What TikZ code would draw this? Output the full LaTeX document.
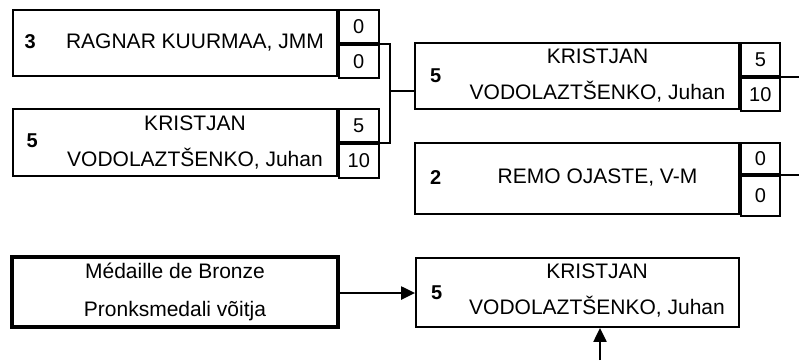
\documentclass[tikz,border=0pt]{standalone}
\usepackage{fontspec}
\setmainfont{Liberation Sans}
\usetikzlibrary{calc,arrows.meta}

\tikzset{
  namebox/.style={draw,line width=1.8pt,minimum width=324pt,minimum height=#1,inner sep=0pt},
  scorebox/.style={draw,line width=1.8pt,minimum width=40pt,minimum height=#1,inner sep=0pt,font=\fontsize{20}{20}\selectfont},
  seed/.style={font=\fontsize{20}{20}\selectfont\bfseries},
  player/.style={align=center,inner sep=0pt,font=\fontsize{21}{36}\selectfont},
  link/.style={line width=2.6pt},
  feed/.style={line width=2.2pt,-{Triangle[length=14pt,width=13pt]}}
}

\begin{document}
\begin{tikzpicture}[x=1pt,y=-1pt]
  \useasboundingbox (0,0) rectangle (799,360);
  % first round
  \node[namebox=66pt] (q1) at (175,43) {};
  \node[scorebox=33pt,anchor=north west] (s1a) at (q1.north east) {0};
  \node[scorebox=33pt,anchor=north] (s1b) at (s1a.south) {0};
  \node[seed] at ($(q1.west)+(18,-1)$) {3};
  \node[player] at ($(q1)+(20,0)$) {RAGNAR KUURMAA, JMM};

  \node[namebox=67pt] (q2) at (175,142.5) {};
  \node[scorebox=33pt,anchor=north west] (s2a) at (q2.north east) {5};
  \node[scorebox=34pt,anchor=north] (s2b) at (s2a.south) {10};
  \node[seed] at ($(q2.west)+(20,-2)$) {5};
  \node[player] at ($(q2)+(20,0)$) {KRISTJAN\\VODOLAZTŠENKO, Juhan};

  % second round
  \node[namebox=66pt] (q3) at (577,76) {};
  \node[scorebox=33pt,minimum width=39pt,anchor=north west] (s3a) at (q3.north east) {5};
  \node[scorebox=33pt,minimum width=39pt,anchor=north] (s3b) at (s3a.south) {10};
  \node[seed] at ($(q3.west)+(21.5,0)$) {5};
  \node[player] at ($(q3)+(20.5,0)$) {KRISTJAN\\VODOLAZTŠENKO, Juhan};

  \node[namebox=71pt] (q4) at (577,178.5) {};
  \node[scorebox=31pt,minimum width=39pt,anchor=north west] (s4a) at (q4.north east) {0};
  \node[scorebox=40pt,minimum width=39pt,anchor=north] (s4b) at (s4a.south) {0};
  \node[seed] at ($(q4.west)+(21.5,-1)$) {2};
  \node[player] at ($(q4)+(20.5,-1)$) {REMO OJASTE, V-M};

  % bronze medal
  \node[namebox=70pt,minimum width=326pt,line width=4pt] (bronze) at (175,292) {};
  \node[player,font=\fontsize{21}{38}\selectfont] at (bronze) {Médaille de Bronze\\Pronksmedali võitja};
  \node[namebox=69pt,minimum width=323pt] (q6) at (577.5,292.5) {};
  \node[seed] at ($(q6.west)+(21.5,0)$) {5};
  \node[player] at ($(q6)+(19.5,-2)$) {KRISTJAN\\VODOLAZTŠENKO, Juhan};

  % connectors
  \coordinate (hub) at (390,91);
  \coordinate (edge) at (799,0);
  \coordinate (below) at (600,360);
  \draw[link] (s1a.south east) -| (hub) |- (s2a.south east);
  \draw[link] (hub) -- (hub -| q3.west);
  \draw[link] (s3a.south east) -- (s3a.south east -| edge);
  \draw[link] (s4a.south east) -- (s4a.south east -| edge);
  \draw[feed] (bronze.east |- 0,293) -- (q6.west |- 0,293);
  \draw[feed] (below) -- (below |- q6.south);
\end{tikzpicture}
\end{document}
